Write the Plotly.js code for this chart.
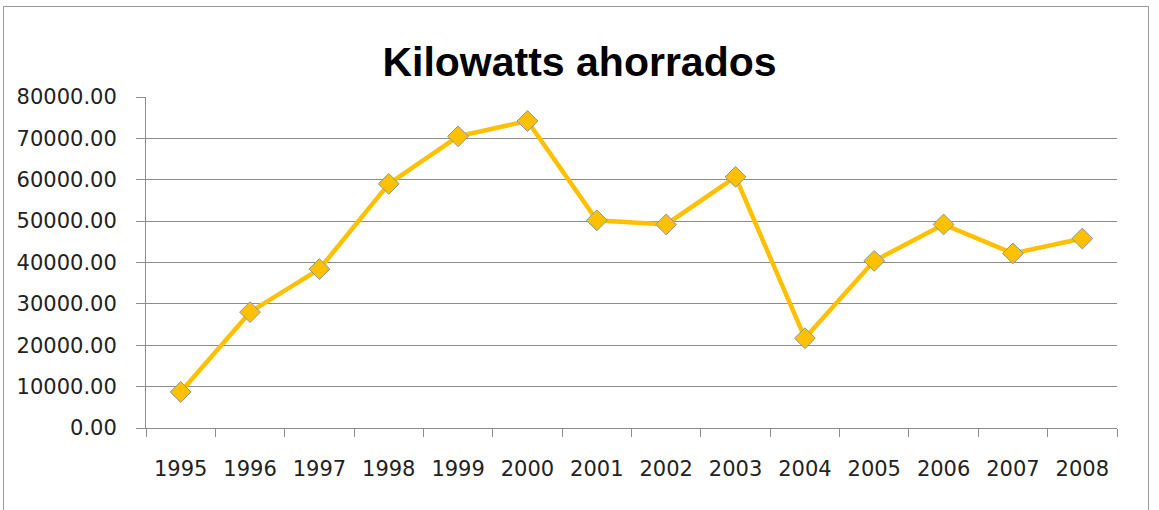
<!DOCTYPE html>
<html>
<head>
<meta charset="utf-8">
<script src="https://cdn.plot.ly/plotly-3.0.1.min.js"></script>
<style>
html,body{margin:0;padding:0;background:#fff;}
#wrap{position:relative;width:1159px;height:510px;overflow:hidden;}
#frame{position:absolute;left:3px;top:6px;width:1146px;height:520px;border:1px solid #9a9a9a;box-sizing:border-box;pointer-events:none;}
#chart{position:absolute;left:0;top:0;width:1159px;height:510px;}
</style>
</head>
<body>
<div id="wrap">
<div id="chart"></div>
<div id="frame"></div>
</div>
<script>
const years = ['1995','1996','1997','1998','1999','2000','2001','2002','2003','2004','2005','2006','2007','2008'];
const kilowatts = [8700, 28000, 38400, 59000, 70500, 74200, 50200, 49200, 60700, 21700, 40400, 49200, 42200, 45800];
const yTicks = [0, 10000, 20000, 30000, 40000, 50000, 60000, 70000, 80000];
const yTickLabels = ['0.00','10000.00','20000.00','30000.00','40000.00','50000.00','60000.00','70000.00','80000.00'];
const chartTitle = 'Kilowatts ahorrados';

const trace = {
  x: years,
  y: kilowatts,
  type: 'scatter',
  mode: 'lines+markers',
  line: {color: '#FFC000', width: 4.5},
  marker: {symbol: 'diamond', size: 16, color: '#FFC000', line: {color: '#7f98ad', width: 1}},
  hoverinfo: 'x+y'
};

const layout = {
  width: 1159,
  height: 510,
  margin: {l: 146, r: 42, t: 97, b: 82},
  paper_bgcolor: 'rgba(0,0,0,0)',
  plot_bgcolor: '#fff',
  showlegend: false,
  title: {
    text: '<b>' + chartTitle + '</b>',
    font: {family: 'Liberation Sans, Arial, sans-serif', size: 41, color: '#000'},
    x: 0.5, xref: 'container', xanchor: 'center',
    y: 1 - 62/510, yref: 'container', yanchor: 'middle'
  },
  xaxis: {
    type: 'category',
    range: [-0.5, 13.5],
    showgrid: false,
    showline: true,
    linecolor: '#8c8c8c',
    linewidth: 1,
    ticks: 'outside',
    tickson: 'boundaries',
    ticklen: 8,
    tickcolor: '#8c8c8c',
    ticklabelstandoff: 22,
    tickfont: {family: 'DejaVu Sans, sans-serif', size: 21, color: '#222'},
    zeroline: false,
    fixedrange: true
  },
  yaxis: {
    range: [0, 80000],
    tickvals: yTicks,
    ticktext: yTickLabels,
    showgrid: true,
    gridcolor: '#8c8c8c',
    gridwidth: 1,
    showline: true,
    linecolor: '#8c8c8c',
    linewidth: 1,
    ticks: 'outside',
    ticklen: 9,
    tickcolor: '#8c8c8c',
    ticklabelstandoff: 15,
    tickfont: {family: 'DejaVu Sans, sans-serif', size: 21, color: '#222'},
    zeroline: false,
    fixedrange: true
  }
};

Plotly.newPlot('chart', [trace], layout, {displayModeBar: false, staticPlot: true});
</script>
</body>
</html>
